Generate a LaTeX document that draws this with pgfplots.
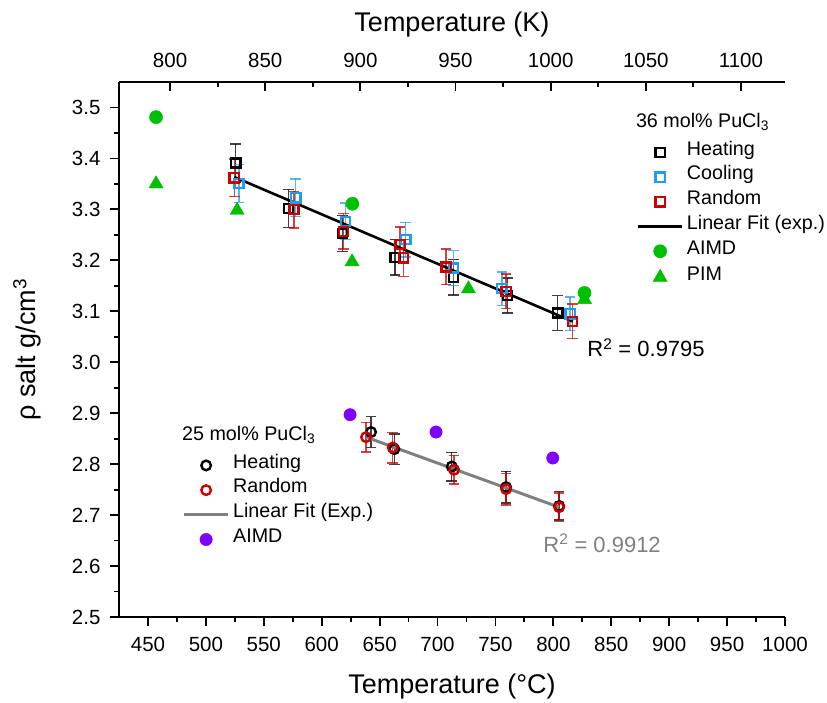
\documentclass[border=0pt]{standalone}
\usepackage{fontspec}
\setmainfont{Liberation Sans}
\usepackage{pgfplots}
\pgfplotsset{compat=1.18}

\definecolor{simgreen}{HTML}{00BF00}
\definecolor{coolblue}{HTML}{1E9CF0}
\definecolor{randred}{HTML}{CC0000}
\definecolor{aimdviolet}{HTML}{8000FF}
\definecolor{fitgray}{HTML}{808080}

\newcommand{\tickfont}{\fontsize{20.5}{24}\selectfont}
\newcommand{\labfont}{\fontsize{27}{31}\selectfont}
\newcommand{\legfont}{\fontsize{19.7}{23}\selectfont}

\pgfplotsset{
  baseax/.style={
    scale only axis, width=666pt, height=535pt,
    xmin=425, xmax=1000, ymin=2.5, ymax=3.55,
    clip=false,
  },
  legbase/.style={
    legend cell align=left,
    legend image code/.code={\draw[mark repeat=2,mark phase=2] plot coordinates {(0pt,0pt) (22.5pt,0pt) (44pt,0pt)};},
    legend style={draw=none, fill=none, anchor=north west, font=\legfont,
      row sep=11.2pt, column sep=2pt, nodes={inner sep=2pt, text height=0.75em, text depth=0.2em}},
  },
  ebar/.style={error bars/.cd, y dir=both, y explicit, error mark=|,
    error mark options={line width=1.4pt, mark size=5.3pt, #1, draw opacity=0.75},
    error bar style={line width=1.4pt, #1, draw opacity=0.75}},
  sq/.style={only marks, mark=square, mark size=4.6pt, line width=2.3pt,
    mark options={line width=2.3pt, draw=#1, fill=none}, color=#1},
  ci/.style={only marks, mark=o, mark size=4.8pt, line width=2.4pt,
    mark options={line width=2.4pt, draw=#1}, color=#1},
}

\begin{document}
\begin{tikzpicture}
% 36 mol% set, main axes (degC)
\begin{axis}[baseax, legbase,
  axis x line=bottom, axis y line=left,
  axis line style={line width=1.8pt, -},
  every tick/.style={line width=1.8pt, black},
  tick align=outside, major tick length=9pt, minor tick length=4.5pt,
  xtick={450,500,550,600,650,700,750,800,850,900,950,1000}, minor x tick num=1,
  ytick={2.5,2.6,2.7,2.8,2.9,3.0,3.1,3.2,3.3,3.4,3.5}, minor y tick num=1,
  /pgf/number format/assume math mode=true,
  /pgf/number format/1000 sep={},
  yticklabel style={/pgf/number format/fixed, /pgf/number format/fixed zerofill,
    /pgf/number format/precision=1, xshift=-6pt},
  ticklabel style={font=\tickfont},
  xticklabel style={yshift=-8pt},
  xlabel={Temperature (°C)}, ylabel={ρ salt g/cm\textsuperscript{3}},
  label style={font=\labfont},
  xlabel style={at={(axis description cs:0.5,-0.13)}, anchor=center},
  ylabel style={at={(axis description cs:-0.138,0.5)}, anchor=center},
  legend style={at={(axis description cs:0.772,0.885)}},
]
\addplot[sq=black, ebar=black] coordinates {
  (525.8,3.391) +- (0,0.037)
  (571.2,3.302) +- (0,0.037)
  (617.8,3.2525) +- (0,0.035)
  (663.3,3.206) +- (0,0.035)
  (713.7,3.1666) +- (0,0.035)
  (760.3,3.131) +- (0,0.034)
  (803.8,3.0966) +- (0,0.034)
};
\addlegendentry{Heating}
\addplot[sq=coolblue, ebar=coolblue] coordinates {
  (528.6,3.351) +- (0,0.037)
  (577.6,3.3226) +- (0,0.037)
  (620.4,3.2767) +- (0,0.036)
  (672.6,3.2407) +- (0,0.034)
  (713.7,3.185) +- (0,0.034)
  (755.5,3.1444) +- (0,0.033)
  (814.5,3.095) +- (0,0.033)
};
\addlegendentry{Cooling}
\addplot[sq=randred, ebar=randred] coordinates {
  (524.5,3.362) +- (0,0.037)
  (576.1,3.2996) +- (0,0.036)
  (618.7,3.257) +- (0,0.035)
  (667.7,3.2308) +- (0,0.035)
  (670.5,3.2047) +- (0,0.036)
  (707.4,3.187) +- (0,0.035)
  (759.2,3.139) +- (0,0.034)
  (816.5,3.080) +- (0,0.034)
};
\addlegendentry{Random}
\addplot[black, line width=2.6pt, no markers] coordinates {(524.5,3.3635) (816.8,3.080)};
\addlegendentry{Linear Fit (exp.)}
\addplot[only marks, mark=*, mark size=6.6pt, color=simgreen, mark options={draw=none, fill=simgreen}] coordinates {
  (457,3.481) (626.5,3.311) (826.9,3.136)
};
\addlegendentry{AIMD}
\addplot[only marks, mark=triangle*, mark size=8.2pt, color=simgreen, mark options={draw=none, fill=simgreen}] coordinates {
  (457,3.350) (527,3.298) (626.2,3.197) (726.7,3.144) (826.9,3.123)
};
\addlegendentry{PIM}
\node[anchor=west, inner sep=0pt, font=\legfont] at (axis description cs:0.776,0.926) {36 mol\% PuCl\textsubscript{3}};
\node[anchor=west, inner sep=0pt, font=\fontsize{22}{26}\selectfont] at (axis description cs:0.703,0.503) {R\textsuperscript{2} = 0.9795};
\end{axis}

% 25 mol% set, same degC frame
\begin{axis}[baseax, legbase, hide axis,
  legend style={at={(axis description cs:0.090,0.300)}},
]
\addplot[ci=black, ebar=black] coordinates {
  (642.6,2.863) +- (0,0.030)
  (662.7,2.8295) +- (0,0.030)
  (712.3,2.7953) +- (0,0.028)
  (759.2,2.7548) +- (0,0.031)
  (805.0,2.718) +- (0,0.028)
};
\addlegendentry{Heating}
\addplot[ci=randred, ebar=randred] coordinates {
  (638.3,2.853) +- (0,0.029)
  (661.3,2.8326) +- (0,0.030)
  (714.3,2.789) +- (0,0.028)
  (759.2,2.751) +- (0,0.031)
  (805.0,2.7155) +- (0,0.028)
};
\addlegendentry{Random}
\addplot[fitgray, line width=3pt, no markers] coordinates {(638.3,2.853) (805.0,2.7155)};
\addlegendentry{Linear Fit (Exp.)}
\addplot[only marks, mark=*, mark size=6.2pt, color=aimdviolet, mark options={draw=none, fill=aimdviolet}] coordinates {
  (624.5,2.897) (698.7,2.863) (799.5,2.812)
};
\addlegendentry{AIMD}
\node[anchor=west, inner sep=0pt, font=\legfont] at (axis description cs:0.0946,0.340) {25 mol\% PuCl\textsubscript{3}};
\node[anchor=west, inner sep=0pt, font=\fontsize{22}{26}\selectfont, text=fitgray] at (axis description cs:0.637,0.138) {R\textsuperscript{2} = 0.9912};
\end{axis}

% top Kelvin axis
\begin{axis}[scale only axis, width=666pt, height=535pt,
  xmin=773.15, xmax=1123.15, ymin=0, ymax=1,
  axis x line=top, axis y line=none,
  axis line style={line width=1.8pt, -},
  every tick/.style={line width=1.8pt, black},
  tick align=inside, major tick length=9pt, minor tick length=5pt,
  xtick={800,850,900,950,1000,1050,1100}, minor x tick num=1,
  /pgf/number format/assume math mode=true,
  /pgf/number format/1000 sep={},
  ticklabel style={font=\tickfont},
  xticklabel style={yshift=11pt},
  xlabel={Temperature (K)}, label style={font=\labfont},
  xlabel style={at={(axis description cs:0.5,1.108)}, anchor=center},
]
\end{axis}
\pgfresetboundingbox
\useasboundingbox (-119pt,-85pt) rectangle (708pt,617pt);
\end{tikzpicture}
\end{document}
